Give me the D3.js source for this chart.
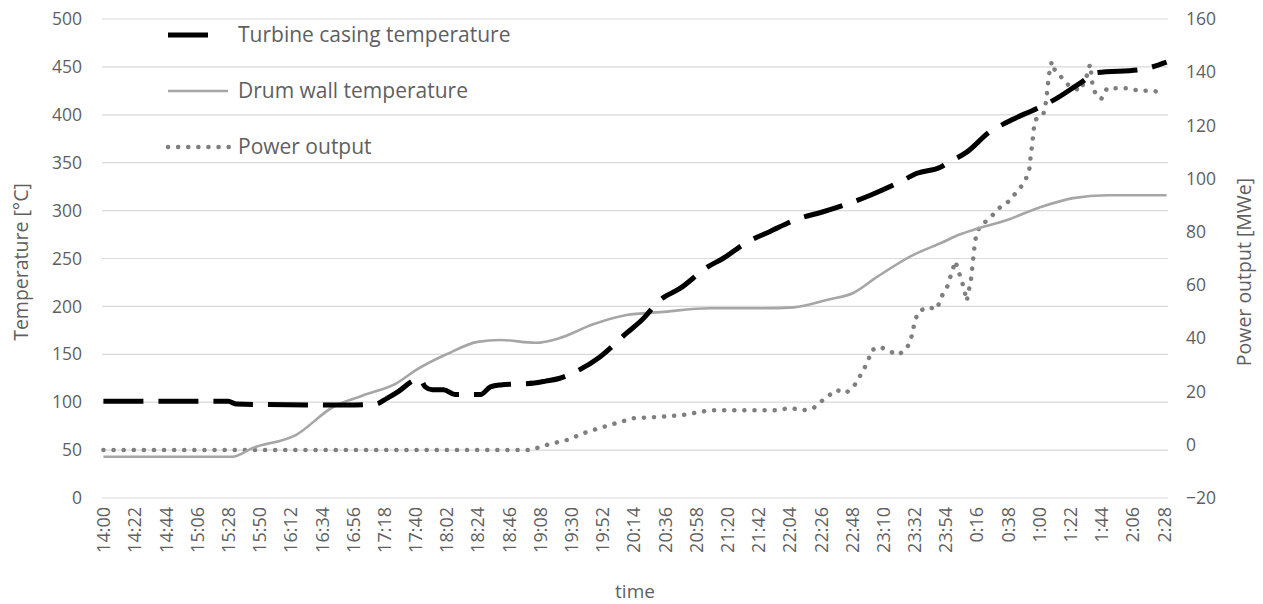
<!DOCTYPE html>
<html>
<head>
<meta charset="utf-8">
<script src="https://cdn.jsdelivr.net/npm/d3@7/dist/d3.min.js"></script>
<style>
  html, body { margin: 0; padding: 0; background: #fff; }
  svg { display: block; font-family: "Open Sans", "Noto Sans", sans-serif; }
</style>
</head>
<body>
<svg id="chart" width="1263" height="604"></svg>
<script>
// ---- tick labels (x axis categories shown) ----
const timeTicks = ["14:00","14:22","14:44","15:06","15:28","15:50","16:12","16:34","16:56","17:18",
  "17:40","18:02","18:24","18:46","19:08","19:30","19:52","20:14","20:36","20:58","21:20","21:42",
  "22:04","22:26","22:48","23:10","23:32","23:54","0:16","0:38","1:00","1:22","1:44","2:06","2:28"];
const leftTicks = [0,50,100,150,200,250,300,350,400,450,500];
const rightTicks = [-20,0,20,40,60,80,100,120,140,160];

// ---- Turbine casing temperature [°C] ----
const turbineTime = ["14:00","15:28","15:34","16:52","17:12","17:20","17:28","17:38","17:43","17:47",
  "17:52","18:00","18:08","18:26","18:33","18:40","19:04","19:12","19:22","19:36","19:50","20:09",
  "20:20","20:33","20:47","21:06","21:17","21:34","21:50","22:11","22:26","22:47","23:01","23:22",
  "23:34","23:50","23:57","0:09","0:25","0:37","0:59","1:10","1:29","1:41","2:11","2:30"];
const turbineTemp = [101,101,98,97,98,104,111,122,125,116,
  113,113,108,108,116,118,120,122,125,134,147,172,
  186,207,219,241,250,267,278,292,298,308,316,330,
  339,345,351,361,382,392,407,415,433,444,447,455];

// ---- Drum wall temperature [°C] ----
const drumTime = ["14:00","15:31","15:45","16:16","16:42","17:03","17:27","17:41","18:02","18:24",
  "18:40","19:05","19:22","19:45","20:09","20:33","21:08","21:43","22:07","22:31","22:49","23:06",
  "23:29","23:52","0:04","0:14","0:37","1:00","1:24","1:48","2:30"];
const drumTemp = [43,43,52,66,95,107,120,134,150,163,
  165,162,167,181,191,194,198,198,199,207,214,231,
  252,267,275,280,290,303,313,316,316];

// ---- Power output [MWe] ----
const powerTime = ["14:00","19:01","19:13","19:27","19:41","19:57","20:14","20:33","20:49","21:08",
  "21:31","21:55","22:04","22:14","22:21","22:28","22:37","22:44","22:50","22:55","22:59","23:02",
  "23:08","23:15","23:21","23:27","23:31","23:32","23:35","23:41","23:48","23:51","23:55","23:58",
  "0:01","0:04","0:07","0:09","0:12","0:13","0:14","0:15","0:18","0:25","0:32","0:40","0:44","0:49",
  "0:53","0:54","0:55","0:56","0:57","1:03","1:05","1:06","1:07","1:09","1:11","1:16","1:21","1:29",
  "1:34","1:36","1:37","1:38","1:41","1:44","1:48","1:55","2:02","2:11","2:20","2:26"];
const powerMW = [-2,-2,0,1.8,4.8,7.4,10,10.5,11.2,13,
  13,13,13.8,13,13.8,17,20.6,19.5,22.5,27,31,35.6,
  36.8,35,33.8,36.4,42,46,50,51.7,51,55.5,59,64,
  69,64,59,54,62,67,72,77,82,85,89,92,95,98,
  102.5,107.8,112,117,122,124,129,134,139,144,141,138,135,133,
  139,143,139,134,131,130,134,134,134,133,133,132.5];

// minutes since 14:00 (times after midnight belong to the next day)
function toMin(s) {
  const [h, m] = s.split(":").map(Number);
  let v = h * 60 + m - 14 * 60;
  if (v < 0) v += 24 * 60;
  return v;
}

const svg = d3.select("#chart");
const L = 102, R = 1168, T = 19, B = 498;
const textColor = "#5f5f5f";

const x = d3.scaleLinear().domain([-1, 751]).range([L, R]);
const yL = d3.scaleLinear().domain([0, 500]).range([B, T]);
const yR = d3.scaleLinear().domain([-20, 160]).range([B, T]);

// gridlines
svg.append("g")
  .selectAll("line").data(leftTicks).join("line")
  .attr("x1", L).attr("x2", R)
  .attr("y1", d => yL(d)).attr("y2", d => yL(d))
  .attr("stroke", "#d9d9d9").attr("stroke-width", 1.2);

// left axis
const gL = svg.append("g").attr("transform", `translate(${L},0)`)
  .call(d3.axisLeft(yL).tickValues(leftTicks).tickSize(0).tickPadding(20));
gL.select(".domain").remove();
gL.selectAll("text").attr("fill", textColor).style("font-size", "17.5px")
  .style("font-family", "'Open Sans', sans-serif");

// right axis
const gR = svg.append("g").attr("transform", `translate(${R},0)`)
  .call(d3.axisRight(yR).tickValues(rightTicks).tickSize(0).tickPadding(18));
gR.select(".domain").remove();
gR.selectAll("text").attr("fill", textColor).style("font-size", "17.5px")
  .style("font-family", "'Open Sans', sans-serif");

// bottom axis
const tickMins = timeTicks.map(toMin);
const gB = svg.append("g").attr("transform", `translate(0,${B})`)
  .call(d3.axisBottom(x).tickValues(tickMins).tickSize(0)
    .tickFormat((d, i) => timeTicks[i]));
gB.select(".domain").remove();
gB.selectAll("text")
  .attr("fill", textColor).style("font-size", "18px")
  .style("font-family", "'Open Sans', sans-serif")
  .attr("transform", "rotate(-90)")
  .attr("x", -9).attr("y", 0).attr("dy", "0.35em")
  .attr("text-anchor", "end");

// axis titles
svg.append("text").text("Temperature [°C]")
  .attr("transform", "translate(28,262) rotate(-90)")
  .attr("text-anchor", "middle").attr("fill", textColor)
  .style("font-size", "19.5px");
svg.append("text").text("Power output [MWe]")
  .attr("transform", "translate(1251,272) rotate(-90)")
  .attr("text-anchor", "middle").attr("fill", textColor)
  .style("font-size", "19.5px");
svg.append("text").text("time")
  .attr("x", (L + R) / 2).attr("y", 598)
  .attr("text-anchor", "middle").attr("fill", textColor)
  .style("font-size", "19px");

// series
const power = powerTime.map((t, i) => [toMin(t), powerMW[i]]);
const drum = drumTime.map((t, i) => [toMin(t), drumTemp[i]]);
const turbine = turbineTime.map((t, i) => [toMin(t), turbineTemp[i]]);

const lineL = d3.line().x(d => x(d[0])).y(d => yL(d[1])).curve(d3.curveMonotoneX);
const lineR = d3.line().x(d => x(d[0])).y(d => yR(d[1])).curve(d3.curveLinear);

svg.append("path").datum(power).attr("d", lineR)
  .attr("fill", "none").attr("stroke", "#7f7f7f").attr("stroke-width", 4.5)
  .attr("stroke-linecap", "round").attr("stroke-dasharray", "0.1 10");
svg.append("path").datum(drum).attr("d", lineL)
  .attr("fill", "none").attr("stroke", "#a6a6a6").attr("stroke-width", 2.6);
svg.append("path").datum(turbine).attr("d", lineL)
  .attr("fill", "none").attr("stroke", "#000").attr("stroke-width", 5)
  .attr("stroke-dasharray", "40 15");

// legend
const legend = [
  {label: "Turbine casing temperature", color: "#000", w: 5, dash: "40 15", cap: "butt", x2: 212, y: 35},
  {label: "Drum wall temperature", color: "#a6a6a6", w: 2.6, dash: null, cap: "butt", x2: 228, y: 91},
  {label: "Power output", color: "#7f7f7f", w: 4.5, dash: "0.1 10", cap: "round", x2: 230, y: 147}
];
const lg = svg.append("g");
legend.forEach(d => {
  lg.append("line").attr("x1", 168).attr("x2", d.x2).attr("y1", d.y).attr("y2", d.y)
    .attr("stroke", d.color).attr("stroke-width", d.w)
    .attr("stroke-dasharray", d.dash).attr("stroke-linecap", d.cap);
  lg.append("text").text(d.label).attr("x", 238).attr("y", d.y).attr("dy", "0.35em")
    .attr("fill", textColor).style("font-size", "21px");
});
</script>
</body>
</html>
